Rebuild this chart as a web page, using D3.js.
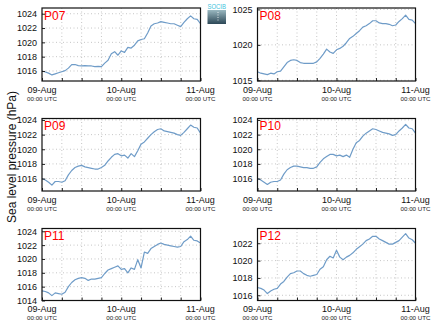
<!DOCTYPE html>
<html><head><meta charset="utf-8">
<script src="https://cdn.jsdelivr.net/npm/d3@7"></script>
<style>body{margin:0;background:#fff}svg{display:block}text{font-family:"Liberation Sans",Arial,Helvetica,sans-serif}</style>
</head><body><svg id="c" width="434" height="327"></svg>
<script>
// ---- data ----
const hours = [0,1,2,3,4,5,6,7,8,9,10,11,12,13,14,15,16,17,18,19,20,21,22,23,24,25,26,27,28,29,30,31,32,33,34,35,36,37,38,39,40,41,42,43,44,45,46,47,48];
const stations = ["P07","P08","P09","P10","P11","P12"];
const p07 = [1016.0,1015.85,1015.7,1015.45,1015.6,1015.75,1015.9,1016.05,1016.4,1016.9,1016.9,1016.75,1016.7,1016.75,1016.7,1016.7,1016.6,1016.65,1016.6,1017.1,1017.5,1018.4,1018.7,1018.2,1018.8,1018.6,1019.3,1019.2,1019.6,1020.2,1020.4,1020.5,1021.3,1022.3,1022.6,1022.7,1022.9,1022.8,1022.7,1022.6,1022.6,1022.4,1022.2,1022.8,1023.3,1023.7,1023.3,1023.2,1022.6];
const p08 = [1016.2,1016.0,1015.9,1015.8,1016.0,1015.9,1016.2,1016.3,1016.9,1017.5,1017.8,1017.9,1017.8,1017.5,1017.4,1017.4,1017.4,1017.4,1017.6,1018.1,1018.7,1019.4,1019.0,1018.8,1019.3,1019.5,1019.8,1020.3,1020.9,1021.2,1021.6,1022.0,1022.5,1022.7,1023.0,1023.4,1023.4,1023.1,1023.0,1023.0,1022.9,1022.7,1022.8,1023.3,1023.7,1024.2,1023.6,1023.5,1023.0];
const p09 = [1016.0,1015.8,1015.5,1015.1,1015.6,1015.6,1015.5,1015.7,1016.5,1017.1,1017.5,1017.7,1017.8,1017.6,1017.5,1017.4,1017.3,1017.3,1017.5,1017.8,1018.4,1018.9,1019.3,1019.4,1019.1,1019.2,1018.8,1019.4,1019.0,1019.8,1020.7,1021.0,1021.5,1022.0,1022.4,1022.7,1022.8,1022.5,1022.4,1022.3,1022.2,1022.0,1021.9,1022.3,1022.8,1023.3,1023.0,1022.9,1022.2];
const p10 = [1016.0,1015.8,1015.5,1015.2,1015.5,1015.6,1015.6,1015.8,1016.6,1017.2,1017.5,1017.7,1017.7,1017.6,1017.5,1017.5,1017.4,1017.4,1017.6,1018.2,1018.7,1019.0,1019.3,1019.3,1019.1,1019.2,1019.0,1019.2,1018.9,1020.0,1020.9,1021.2,1021.8,1022.2,1022.5,1022.8,1022.7,1022.5,1022.3,1022.2,1022.1,1021.9,1022.0,1022.5,1022.9,1023.4,1022.9,1022.8,1022.2];
const p11 = [1015.4,1015.3,1015.1,1014.7,1015.1,1015.0,1014.9,1015.2,1016.0,1016.6,1017.0,1017.2,1017.3,1017.2,1016.9,1017.1,1017.1,1017.2,1017.3,1017.9,1018.4,1018.6,1018.8,1019.0,1018.5,1018.6,1018.0,1018.7,1018.5,1019.9,1018.7,1021.0,1020.8,1021.5,1021.8,1022.1,1022.3,1022.1,1022.0,1021.9,1021.8,1021.7,1021.8,1022.5,1022.8,1023.3,1022.7,1022.6,1022.3];
const p12 = [1016.9,1016.8,1016.6,1016.2,1016.5,1016.7,1016.8,1017.3,1017.6,1018.1,1018.5,1018.6,1018.8,1018.8,1018.5,1018.3,1018.2,1018.3,1018.4,1019.0,1019.3,1020.1,1020.5,1020.3,1021.2,1020.4,1020.1,1020.4,1020.6,1020.9,1021.3,1021.6,1021.9,1022.3,1022.5,1022.8,1022.8,1022.5,1022.3,1022.1,1021.9,1021.9,1022.1,1022.3,1022.7,1023.1,1022.6,1022.4,1022.0];
const yRanges = [[1014.6,1024.8],[1014.9,1025.2],[1014.3,1024.2],[1014.3,1024.2],[1014.0,1024.4],[1015.4,1023.7]];
const yTickSets = [[1016,1018,1020,1022,1024],[1015,1020,1025],[1016,1018,1020,1022,1024],[1016,1018,1020,1022,1024],[1014,1016,1018,1020,1022,1024],[1016,1018,1020,1022]];
const dateLabels = ["09-Aug","10-Aug","11-Aug"];
const dateHours = [0,24,48];
const timeLabel = "00:00 UTC";
const gridHours = [6,12,18,24,30,36,42];
const yTitle = "Sea level pressure (hPa)";
const series = [p07,p08,p09,p10,p11,p12];

// ---- layout ----
const svg = d3.select("#c");
const cols = [[42,200.5],[257.5,415.5]];
const rows = [[8,81],[118.5,191],[228.5,300.5]];
const lineColor = "#6f9cc8";

series.forEach((vals,i)=>{
  const c = cols[i%2], r = rows[Math.floor(i/2)];
  const x = d3.scaleLinear().domain([0,48]).range(c);
  const y = d3.scaleLinear().domain(yRanges[i]).range([r[1],r[0]]);
  const g = svg.append("g");
  // grid
  g.selectAll(".vg").data(gridHours).enter().append("line")
    .attr("x1",d=>x(d)).attr("x2",d=>x(d)).attr("y1",r[0]).attr("y2",r[1])
    .attr("stroke","#b8b8b8").attr("stroke-width",0.8).attr("stroke-dasharray","1,2.5");
  g.selectAll(".hg").data(yTickSets[i]).enter().append("line")
    .attr("x1",c[0]).attr("x2",c[1]).attr("y1",d=>y(d)).attr("y2",d=>y(d))
    .attr("stroke","#b8b8b8").attr("stroke-width",0.8).attr("stroke-dasharray","1,2.5");
  // line
  const line = d3.line().x((d,k)=>x(hours[k])).y(d=>y(d));
  g.append("path").datum(vals).attr("d",line).attr("fill","none")
    .attr("stroke",lineColor).attr("stroke-width",1.2).attr("stroke-linejoin","round");
  // y axis
  const ya = d3.axisLeft(y).tickValues(yTickSets[i]).tickSize(-3).tickPadding(5).tickFormat(d3.format("d"));
  const yg = g.append("g").attr("transform",`translate(${c[0]},0)`).call(ya);
  yg.select(".domain").remove();
  yg.selectAll("line").attr("stroke","#222");
  yg.selectAll("text").attr("font-size","9px").attr("fill","#111").attr("font-family","Liberation Sans, Arial");
  // x axis ticks
  const xa = d3.axisBottom(x).tickValues(gridHours.concat([0,48])).tickSize(-3).tickFormat("");
  const xg = g.append("g").attr("transform",`translate(0,${r[1]})`).call(xa);
  xg.select(".domain").remove();
  xg.selectAll("line").attr("stroke","#222");
  // frame
  g.append("rect").attr("x",c[0]).attr("y",r[0]).attr("width",c[1]-c[0]).attr("height",r[1]-r[0])
    .attr("fill","none").attr("stroke","#111").attr("stroke-width",1.2);
  // date labels
  g.selectAll(".dl").data(dateHours).enter().append("text")
    .attr("x",d=>x(d)).attr("y",r[1]+11.5).attr("text-anchor","middle")
    .attr("font-size","9px").attr("fill","#111").text((d,k)=>dateLabels[k]);
  g.selectAll(".tl").data(dateHours).enter().append("text")
    .attr("x",d=>x(d)).attr("y",r[1]+19.7).attr("text-anchor","middle")
    .attr("font-size","6.2px").attr("fill","#222").text(timeLabel);
  // station label
  g.append("text").attr("x",c[0]+2).attr("y",r[0]+11.5).attr("font-size","12px")
    .attr("fill","#ff0000").text(stations[i]);
});

// y title
svg.append("text").attr("transform","translate(15.5,157) rotate(-90)").attr("text-anchor","middle")
  .attr("font-size","12px").attr("fill","#111").text(yTitle);

// logo
const defs = svg.append("defs");
const gr = defs.append("linearGradient").attr("id","lg").attr("x1",0).attr("x2",0).attr("y1",0).attr("y2",1);
gr.append("stop").attr("offset","0%").attr("stop-color","#9ab8c0");
gr.append("stop").attr("offset","100%").attr("stop-color","#2c4756");
svg.append("rect").attr("x",207.5).attr("y",10).attr("width",18.5).attr("height",14).attr("fill","url(#lg)");
svg.append("line").attr("x1",218).attr("x2",218).attr("y1",12).attr("y2",21).attr("stroke","#fff").attr("stroke-width",0.8).attr("stroke-dasharray","1,1.5");
svg.append("text").attr("x",207.5).attr("y",9.3).attr("font-size","7px").attr("fill","#3cc3dc")
  .attr("textLength",18.5).attr("lengthAdjust","spacingAndGlyphs").text("SOCIB");
</script></body></html>
